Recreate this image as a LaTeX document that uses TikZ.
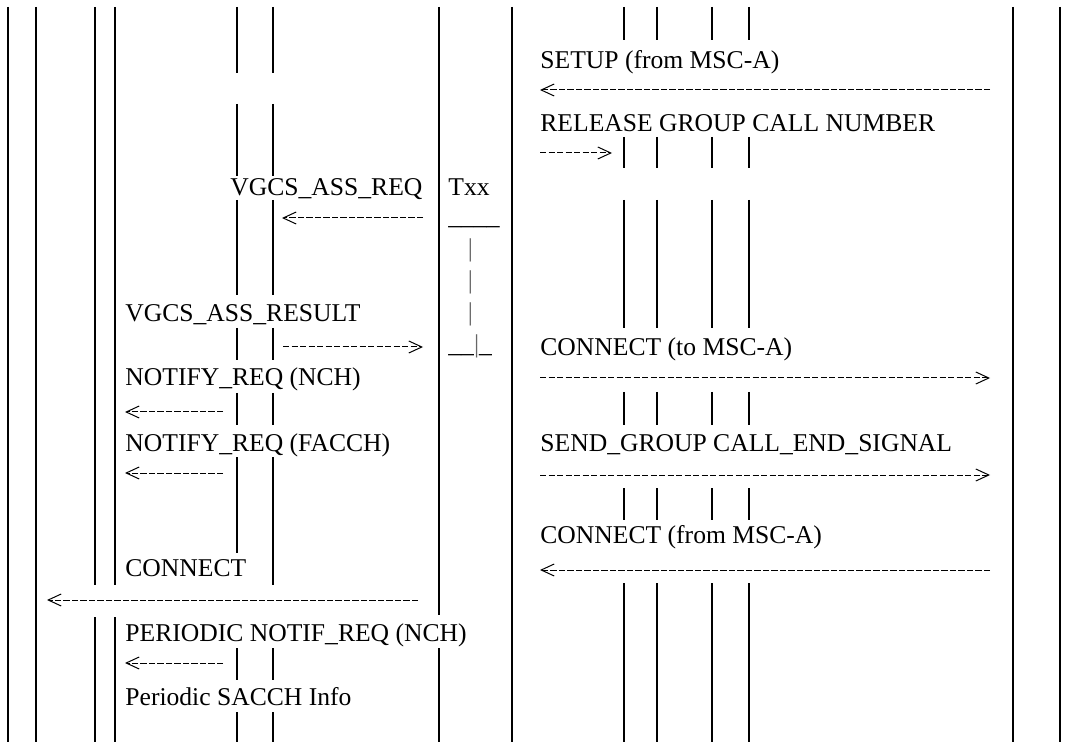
\documentclass[tikz,border=0pt]{standalone}
\usepackage{fontspec}
\setmainfont{Liberation Serif}
\usetikzlibrary{arrows.meta}

\begin{document}
\begin{tikzpicture}[x=0.5pt, y=-0.5pt,
  life/.style={line width=1.25pt},
  lbl/.style={anchor=base west, inner sep=0pt, font=\fontsize{12.8pt}{15pt}\selectfont},
  tmr/.style={lbl, text=black!60},
  sig/.style={line width=0.5pt, dash pattern=on 3.15pt off 1.1pt, -{Straight Barb[length=6.5pt,width=6pt]}}]
\useasboundingbox (0,0) rectangle (1080,742);
\foreach \x in {8,36,512,1013,1060} \draw [life] (\x,7) -- (\x,742);
\foreach \x in {95,115} \draw [life] (\x,7) -- (\x,585) (\x,617) -- (\x,742);
\foreach \x/\y in {237/553,273/585} \draw [life] (\x,7) -- (\x,73) (\x,104) -- (\x,176) (\x,200) -- (\x,295) (\x,328) -- (\x,360) (\x,393) -- (\x,425) (\x,457) -- (\x,\y) (\x,648) -- (\x,680) (\x,712) -- (\x,742);
\draw [life] (439,7) -- (439,615) (439,648) -- (439,742);
\foreach \x in {624,657,712,749} \draw [life] (\x,7) -- (\x,40) (\x,137) -- (\x,168) (\x,200) -- (\x,328) (\x,392) -- (\x,425) (\x,488) -- (\x,520) (\x,583) -- (\x,742);

\node [lbl] (setup) at (540,68.5) {SETUP (from MSC-A)};
\node [lbl] (release) at (540,131.5) {RELEASE GROUP CALL NUMBER};
\node [lbl] (assreq) at (230,195.5) {VGCS\_ASS\_REQ};
\node [lbl] (txx) at (448,195.5) {Txx};
\node [lbl] (tstart) at (448,224.5) {\_\_\_\_};
\node [tmr] (tbar1) at (467.5,256.5) {|};
\node [tmr] (tbar2) at (467.5,288.5) {|};
\node [tmr] (tbar3) at (467.5,320.5) {|};
\node [lbl] (tend) at (448,352.5) {\_\_\textcolor{black!60}{|}\_};
\node [lbl] (assres) at (125,321.5) {VGCS\_ASS\_RESULT};
\node [lbl] (connto) at (540,355.5) {CONNECT (to MSC-A)};
\node [lbl] (notnch) at (125,385.5) {NOTIFY\_REQ (NCH)};
\node [lbl] (notfacch) at (125,451.5) {NOTIFY\_REQ (FACCH)};
\node [lbl] (sendgrp) at (540,451.5) {SEND\_GROUP CALL\_END\_SIGNAL};
\node [lbl] (connfrom) at (540,543.5) {CONNECT (from MSC-A)};
\node [lbl] (connect) at (125,576.5) {CONNECT};
\node [lbl] (pernotif) at (125,641.5) {PERIODIC NOTIF\_REQ (NCH)};
\node [lbl] (sacch) at (125,705.5) {Periodic SACCH Info};

\coordinate (setup-l) at (540,90);
\coordinate (setup-r) at (990,90);
\coordinate (release-l) at (540,153);
\coordinate (release-r) at (612,153);
\coordinate (assreq-l) at (282,218);
\coordinate (assreq-r) at (423,218);
\coordinate (assres-l) at (283,347);
\coordinate (assres-r) at (423,347);
\coordinate (connto-l) at (540,378);
\coordinate (connto-r) at (990,378);
\coordinate (notnch-l) at (125,412);
\coordinate (notnch-r) at (223,412);
\coordinate (sendgrp-l) at (540,475);
\coordinate (sendgrp-r) at (990,475);
\coordinate (notfacch-l) at (125,473);
\coordinate (notfacch-r) at (223,473);
\coordinate (connfrom-l) at (540,570);
\coordinate (connfrom-r) at (990,570);
\coordinate (connect-l) at (47,600);
\coordinate (connect-r) at (418,600);
\coordinate (pernotif-l) at (125,663);
\coordinate (pernotif-r) at (223,663);

\draw [sig] (setup-r) -- (setup-l);
\draw [sig] (release-l) -- (release-r);
\draw [sig] (assreq-r) -- (assreq-l);
\draw [sig] (assres-l) -- (assres-r);
\draw [sig] (connto-l) -- (connto-r);
\draw [sig] (notnch-r) -- (notnch-l);
\draw [sig] (sendgrp-l) -- (sendgrp-r);
\draw [sig] (notfacch-r) -- (notfacch-l);
\draw [sig] (connfrom-r) -- (connfrom-l);
\draw [sig] (connect-r) -- (connect-l);
\draw [sig] (pernotif-r) -- (pernotif-l);
\end{tikzpicture}
\end{document}
